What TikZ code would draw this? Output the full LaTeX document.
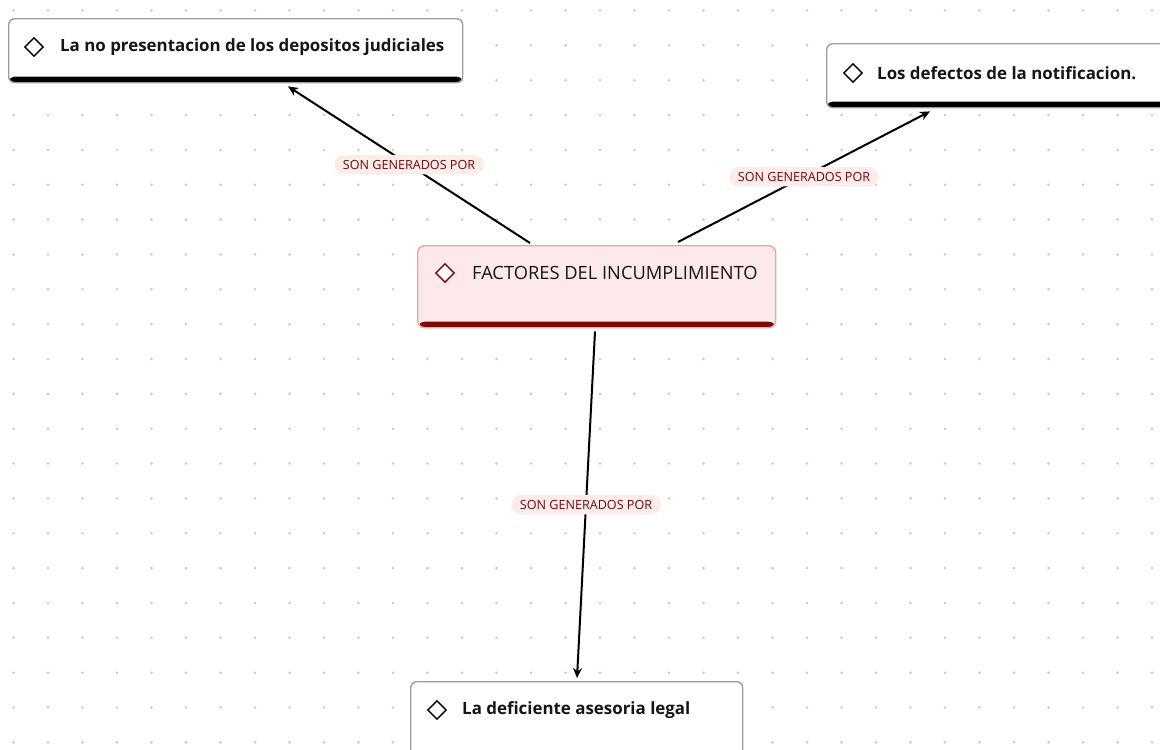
\documentclass[tikz,border=0pt]{standalone}
\usepackage{fontspec}
\setmainfont{Open Sans}
\usetikzlibrary{calc,arrows.meta,shapes.geometric}
\definecolor{dotgray}{HTML}{C9C9C9}
\definecolor{boxgray}{HTML}{9E9E9E}
\definecolor{cfill}{HTML}{FDE9EA}
\definecolor{cdraw}{HTML}{EBA3A8}
\definecolor{cbar}{HTML}{7B0A0A}
\definecolor{lblfill}{HTML}{FDECEC}
\definecolor{lbltext}{HTML}{6E0A0A}
\definecolor{txt}{HTML}{151515}
\tikzset{
  plainbox/.style={rectangle, rounded corners=6pt, draw=boxgray, line width=1.4pt, fill=white,
    anchor=north west, inner sep=0pt,
    path picture={\fill[black] ($(path picture bounding box.south west)+(0,-6)$) rectangle (path picture bounding box.south east);}},
  mainbox/.style={rectangle, rounded corners=7pt, draw=cdraw, line width=1.4pt, fill=cfill,
    anchor=north west, inner sep=0pt,
    path picture={\fill[cbar] ($(path picture bounding box.south west)+(0,-6)$) rectangle (path picture bounding box.south east);}},
  boxtext/.style={anchor=west, inner sep=0pt, text=txt, font=\fontsize{16.9}{20}\selectfont\bfseries},
  maintext/.style={anchor=west, inner sep=0pt, text=txt, font=\fontsize{18.3}{22}\selectfont},
  diam/.style={diamond, draw=black, line width=1.4pt, minimum width=19pt, minimum height=19pt, inner sep=0pt},
  conn/.style={draw=black, line width=2pt, -{Stealth[length=10pt,width=9pt]}},
  lbl/.style={fill=lblfill, text=lbltext, rounded corners=9pt, inner xsep=8.5pt, inner ysep=5pt,
    font=\fontsize{12.6}{14}\selectfont}
}
\begin{document}
\begin{tikzpicture}[x=1pt,y=-1pt]
\useasboundingbox (0,0) rectangle (1160,750);
\clip (0,0) rectangle (1160,750);
% dot grid
\foreach \i in {0,...,33}{
  \foreach \j in {0,...,21}{
    \fill[dotgray] (13.5+34.5*\i, 10.5+34.85*\j) circle (1.4);
  }
}
% boxes
\node[plainbox, minimum width=454pt, minimum height=64pt] (n1) at (8,18) {};
\node[diam] (d1) at (34,47) {};
\node[boxtext] (t1) at (60,47) {La no presentacion de los depositos judiciales};

\node[plainbox, minimum width=350pt, minimum height=64pt] (n2) at (826,43) {};
\node[diam] (d2) at (853,73) {};
\node[boxtext] (t2) at (877,73) {Los defectos de la notificacion.};

\node[mainbox, minimum width=358pt, minimum height=82pt] (c) at (417,245) {};
\node[diam, draw=cbar, fill=white] (dc) at (445,273) {};
\node[maintext] (tc) at (472,273) {FACTORES DEL INCUMPLIMIENTO};

\node[plainbox, minimum width=332pt, minimum height=120pt] (n4) at (410,681) {};
\node[diam] (d4) at (437,710) {};
\node[boxtext] (t4) at (462,710) {La deficiente asesoria legal};

% connectors
\coordinate (c1) at ($(c.north west)+(113,-2)$);
\coordinate (c2) at ($(c.north west)+(261,-3)$);
\coordinate (c3) at ($(c.south west)+(178,3)$);
\coordinate (e1) at ($(n1.south west)+(280,3)$);
\coordinate (e2) at ($(n2.south west)+(104,3)$);
\coordinate (e4) at ($(n4.north west)+(167,-3)$);
\draw[conn] (c1) -- (e1) node[lbl, pos=0.5] (l1) {SON GENERADOS POR};
\draw[conn] (c2) -- (e2) node[lbl, pos=0.5] (l2) {SON GENERADOS POR};
\draw[conn] (c3) -- (e4) node[lbl, pos=0.5] (l3) {SON GENERADOS POR};
\end{tikzpicture}
\end{document}
